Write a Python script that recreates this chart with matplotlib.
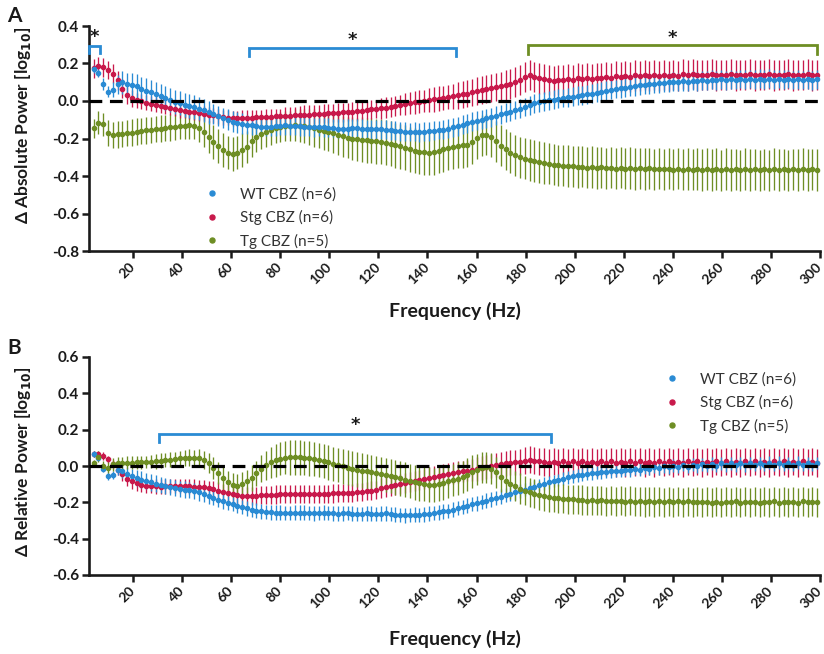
import numpy as np
import matplotlib
matplotlib.use('Agg')
import matplotlib.pyplot as plt
from matplotlib.lines import Line2D

plt.rcParams['font.family'] = ['Lato', 'DejaVu Sans']

# frequency bins (Hz): 1000/512 Hz resolution, bins 2..153
freq = np.arange(2, 154) * (1000.0 / 512.0)

series_names = ['WT CBZ (n=6)', 'Stg CBZ (n=6)', 'Tg CBZ (n=5)']
xtick_vals = [20, 40, 60, 80, 100, 120, 140, 160, 180, 200, 220, 240, 260, 280, 300]
yticksA = [-0.8, -0.6, -0.4, -0.2, 0.0, 0.2, 0.4]
yticklabelsA = ['-0.8', '-0.6', '-0.4', '-0.2', '0.0', '0.2', '0.4']
yticksB = [-0.6, -0.4, -0.2, 0.0, 0.2, 0.4, 0.6]
yticklabelsB = ['-0.6', '-0.4', '-0.2', '0.0', '0.2', '0.4', '0.6']

# ---- Panel A: delta absolute power ----
wt_abs = [
    0.170, 0.150, 0.090, 0.050, 0.060, 0.090, 0.100, 0.090, 0.085, 0.080,
    0.065, 0.055, 0.047, 0.035, 0.027, 0.015, 0.006, -0.004, -0.012, -0.020,
    -0.025, -0.032, -0.040, -0.050, -0.060, -0.070, -0.080, -0.090, -0.100, -0.110,
    -0.115, -0.120, -0.126, -0.130, -0.133, -0.136, -0.137, -0.136, -0.135, -0.132,
    -0.130, -0.131, -0.133, -0.135, -0.136, -0.138, -0.140, -0.139, -0.141, -0.143,
    -0.144, -0.147, -0.148, -0.147, -0.145, -0.146, -0.147, -0.149, -0.150, -0.151,
    -0.150, -0.153, -0.156, -0.158, -0.161, -0.163, -0.165, -0.164, -0.166, -0.163,
    -0.161, -0.158, -0.155, -0.152, -0.147, -0.141, -0.134, -0.126, -0.118, -0.111,
    -0.105, -0.099, -0.093, -0.086, -0.078, -0.071, -0.063, -0.056, -0.048, -0.041,
    -0.032, -0.022, -0.013, -0.006, -0.001, 0.003, 0.007, 0.012, 0.016, 0.020,
    0.024, 0.028, 0.031, 0.035, 0.040, 0.045, 0.050, 0.055, 0.060, 0.064,
    0.068, 0.072, 0.075, 0.079, 0.083, 0.086, 0.089, 0.092, 0.095, 0.097,
    0.099, 0.103, 0.101, 0.106, 0.104, 0.109, 0.106, 0.111, 0.108, 0.113,
    0.110, 0.115, 0.111, 0.116, 0.112, 0.117, 0.113, 0.117, 0.114, 0.118,
    0.114, 0.118, 0.113, 0.117, 0.113, 0.117, 0.112, 0.116, 0.112, 0.116,
    0.111, 0.115]
stg_abs = [
    0.175, 0.185, 0.180, 0.165, 0.145, 0.110, 0.065, 0.030, 0.015, 0.005,
    0.000, -0.008, -0.015, -0.020, -0.025, -0.030, -0.037, -0.042, -0.048, -0.053,
    -0.057, -0.060, -0.064, -0.068, -0.072, -0.077, -0.082, -0.086, -0.090, -0.092,
    -0.092, -0.090, -0.089, -0.088, -0.087, -0.086, -0.085, -0.084, -0.082, -0.080,
    -0.079, -0.078, -0.076, -0.075, -0.073, -0.072, -0.070, -0.069, -0.067, -0.066,
    -0.064, -0.062, -0.060, -0.058, -0.056, -0.054, -0.051, -0.048, -0.045, -0.042,
    -0.039, -0.035, -0.031, -0.026, -0.021, -0.016, -0.011, -0.007, -0.003, 0.001,
    0.005, 0.009, 0.013, 0.017, 0.021, 0.025, 0.030, 0.035, 0.040, 0.046,
    0.052, 0.058, 0.063, 0.068, 0.073, 0.078, 0.085, 0.092, 0.100, 0.112,
    0.130, 0.140, 0.130, 0.120, 0.115, 0.110, 0.108, 0.112, 0.110, 0.116,
    0.114, 0.120, 0.116, 0.123, 0.119, 0.125, 0.121, 0.128, 0.124, 0.131,
    0.127, 0.133, 0.129, 0.136, 0.131, 0.138, 0.133, 0.139, 0.134, 0.140,
    0.135, 0.141, 0.135, 0.142, 0.136, 0.142, 0.136, 0.141, 0.137, 0.142,
    0.136, 0.141, 0.137, 0.142, 0.136, 0.141, 0.137, 0.143, 0.136, 0.141,
    0.137, 0.142, 0.136, 0.141, 0.137, 0.142, 0.136, 0.141, 0.137, 0.142,
    0.136, 0.140]
tg_abs = [
    -0.145, -0.115, -0.125, -0.170, -0.180, -0.178, -0.175, -0.172, -0.168, -0.163,
    -0.160, -0.157, -0.153, -0.150, -0.147, -0.144, -0.141, -0.138, -0.135, -0.132,
    -0.130, -0.132, -0.146, -0.165, -0.190, -0.217, -0.240, -0.260, -0.275, -0.283,
    -0.275, -0.262, -0.243, -0.215, -0.192, -0.176, -0.164, -0.153, -0.145, -0.138,
    -0.134, -0.131, -0.130, -0.131, -0.134, -0.138, -0.144, -0.152, -0.160, -0.167,
    -0.172, -0.180, -0.188, -0.195, -0.200, -0.203, -0.206, -0.208, -0.211, -0.214,
    -0.217, -0.222, -0.228, -0.235, -0.242, -0.250, -0.258, -0.265, -0.270, -0.274,
    -0.275, -0.273, -0.266, -0.258, -0.250, -0.243, -0.238, -0.235, -0.232, -0.218,
    -0.198, -0.183, -0.180, -0.190, -0.215, -0.238, -0.258, -0.275, -0.290, -0.300,
    -0.308, -0.315, -0.320, -0.325, -0.330, -0.335, -0.340, -0.343, -0.345, -0.347,
    -0.349, -0.352, -0.350, -0.355, -0.352, -0.357, -0.353, -0.358, -0.355, -0.360,
    -0.356, -0.361, -0.357, -0.362, -0.358, -0.363, -0.359, -0.364, -0.360, -0.365,
    -0.361, -0.366, -0.361, -0.367, -0.362, -0.367, -0.362, -0.368, -0.363, -0.368,
    -0.363, -0.369, -0.363, -0.368, -0.364, -0.369, -0.363, -0.368, -0.364, -0.369,
    -0.364, -0.369, -0.363, -0.368, -0.364, -0.369, -0.364, -0.368, -0.363, -0.368,
    -0.364, -0.368]

wt_abs_err = [
    0.02, 0.02, 0.03, 0.03, 0.04, 0.05, 0.06, 0.06, 0.065, 0.065,
    0.065, 0.065, 0.065, 0.065, 0.065, 0.065, 0.065, 0.065, 0.065, 0.065,
    0.065, 0.065, 0.06, 0.06, 0.06, 0.055, 0.055, 0.055, 0.055, 0.055,
    0.055, 0.055, 0.05, 0.05, 0.05, 0.05, 0.05, 0.05, 0.05, 0.05,
    0.05, 0.05, 0.05, 0.05, 0.05, 0.05, 0.05, 0.05, 0.05, 0.05,
    0.05, 0.05, 0.05, 0.05, 0.05, 0.05, 0.05, 0.05, 0.05, 0.05,
    0.05, 0.05, 0.05, 0.05, 0.05, 0.05, 0.05, 0.05, 0.05, 0.05,
    0.05, 0.05, 0.05, 0.05, 0.05, 0.05, 0.05, 0.05, 0.05, 0.05,
    0.05, 0.05, 0.05, 0.05, 0.05, 0.05, 0.05, 0.05, 0.05, 0.05,
    0.05, 0.05, 0.05, 0.05, 0.05, 0.05, 0.05, 0.05, 0.05, 0.05,
    0.05, 0.05, 0.05, 0.05, 0.05, 0.05, 0.05, 0.05, 0.05, 0.05,
    0.05, 0.05, 0.05, 0.05, 0.05, 0.05, 0.05, 0.05, 0.05, 0.05,
    0.05, 0.05, 0.05, 0.05, 0.05, 0.05, 0.05, 0.05, 0.05, 0.05,
    0.05, 0.05, 0.05, 0.05, 0.05, 0.05, 0.05, 0.05, 0.05, 0.05,
    0.05, 0.05, 0.05, 0.05, 0.05, 0.05, 0.05, 0.05, 0.05, 0.05,
    0.05, 0.05]
stg_abs_err = [
    0.05, 0.05, 0.05, 0.05, 0.05, 0.05, 0.05, 0.045, 0.045, 0.04,
    0.04, 0.04, 0.04, 0.04, 0.04, 0.04, 0.04, 0.04, 0.04, 0.04,
    0.04, 0.04, 0.04, 0.04, 0.04, 0.04, 0.04, 0.04, 0.04, 0.04,
    0.04, 0.04, 0.04, 0.04, 0.04, 0.04, 0.04, 0.04, 0.04, 0.04,
    0.045, 0.045, 0.045, 0.05, 0.05, 0.05, 0.05, 0.05, 0.05, 0.05,
    0.05, 0.05, 0.05, 0.05, 0.05, 0.05, 0.05, 0.05, 0.05, 0.05,
    0.055, 0.055, 0.055, 0.055, 0.055, 0.06, 0.06, 0.06, 0.06, 0.06,
    0.065, 0.065, 0.065, 0.065, 0.065, 0.065, 0.07, 0.07, 0.07, 0.07,
    0.075, 0.075, 0.075, 0.075, 0.075, 0.075, 0.08, 0.08, 0.08, 0.08,
    0.08, 0.08, 0.08, 0.08, 0.08, 0.08, 0.08, 0.08, 0.08, 0.08,
    0.08, 0.08, 0.08, 0.08, 0.08, 0.08, 0.08, 0.08, 0.08, 0.08,
    0.08, 0.08, 0.08, 0.08, 0.08, 0.08, 0.08, 0.08, 0.08, 0.08,
    0.08, 0.08, 0.08, 0.08, 0.08, 0.08, 0.08, 0.08, 0.08, 0.08,
    0.08, 0.08, 0.08, 0.08, 0.08, 0.08, 0.08, 0.08, 0.08, 0.08,
    0.08, 0.08, 0.08, 0.08, 0.08, 0.08, 0.08, 0.08, 0.08, 0.08,
    0.08, 0.08]
tg_abs_err = [
    0.05, 0.06, 0.06, 0.07, 0.07, 0.07, 0.07, 0.07, 0.07, 0.07,
    0.07, 0.07, 0.07, 0.07, 0.07, 0.07, 0.07, 0.07, 0.07, 0.07,
    0.07, 0.07, 0.075, 0.08, 0.085, 0.09, 0.09, 0.09, 0.09, 0.09,
    0.09, 0.09, 0.085, 0.085, 0.08, 0.08, 0.08, 0.08, 0.08, 0.08,
    0.08, 0.08, 0.085, 0.09, 0.09, 0.095, 0.10, 0.10, 0.10, 0.10,
    0.105, 0.11, 0.11, 0.11, 0.115, 0.115, 0.12, 0.12, 0.12, 0.12,
    0.12, 0.12, 0.12, 0.12, 0.12, 0.12, 0.12, 0.12, 0.12, 0.12,
    0.12, 0.12, 0.12, 0.12, 0.12, 0.12, 0.12, 0.12, 0.12, 0.12,
    0.11, 0.11, 0.11, 0.11, 0.11, 0.11, 0.11, 0.11, 0.11, 0.11,
    0.11, 0.11, 0.11, 0.11, 0.11, 0.11, 0.11, 0.11, 0.11, 0.11,
    0.11, 0.11, 0.11, 0.11, 0.11, 0.11, 0.11, 0.11, 0.11, 0.11,
    0.11, 0.11, 0.11, 0.11, 0.11, 0.11, 0.11, 0.11, 0.11, 0.11,
    0.11, 0.11, 0.11, 0.11, 0.11, 0.11, 0.11, 0.11, 0.11, 0.11,
    0.11, 0.11, 0.11, 0.11, 0.11, 0.11, 0.11, 0.11, 0.11, 0.11,
    0.11, 0.11, 0.11, 0.11, 0.11, 0.11, 0.11, 0.11, 0.11, 0.11,
    0.11, 0.11]

# ---- Panel B: delta relative power ----
wt_rel = [
    0.065, 0.045, -0.015, -0.055, -0.050, -0.020, -0.030, -0.045, -0.055, -0.065,
    -0.075, -0.083, -0.090, -0.097, -0.105, -0.110, -0.115, -0.120, -0.125, -0.130,
    -0.133, -0.138, -0.145, -0.155, -0.165, -0.175, -0.185, -0.195, -0.203, -0.210,
    -0.218, -0.226, -0.233, -0.240, -0.245, -0.250, -0.253, -0.255, -0.256, -0.257,
    -0.258, -0.258, -0.257, -0.256, -0.257, -0.259, -0.260, -0.258, -0.256, -0.258,
    -0.260, -0.262, -0.260, -0.258, -0.262, -0.265, -0.263, -0.260, -0.262, -0.264,
    -0.262, -0.260, -0.263, -0.267, -0.270, -0.272, -0.270, -0.268, -0.270, -0.266,
    -0.262, -0.258, -0.255, -0.250, -0.247, -0.240, -0.232, -0.225, -0.218, -0.210,
    -0.205, -0.197, -0.190, -0.183, -0.175, -0.168, -0.160, -0.153, -0.145, -0.138,
    -0.130, -0.122, -0.113, -0.105, -0.097, -0.090, -0.083, -0.077, -0.070, -0.063,
    -0.057, -0.052, -0.047, -0.043, -0.040, -0.037, -0.034, -0.032, -0.030, -0.028,
    -0.026, -0.020, -0.024, -0.015, -0.020, -0.010, -0.016, -0.006, -0.012, -0.002,
    -0.008, 0.002, -0.005, 0.005, -0.003, 0.008, -0.001, 0.010, 0.000, 0.012,
    0.002, 0.014, 0.003, 0.015, 0.004, 0.016, 0.004, 0.017, 0.005, 0.017,
    0.005, 0.018, 0.006, 0.018, 0.005, 0.017, 0.006, 0.018, 0.005, 0.017,
    0.006, 0.016]
stg_rel = [
    0.065, 0.068, 0.055, 0.037, 0.010, -0.020, -0.045, -0.070, -0.085, -0.095,
    -0.103, -0.108, -0.110, -0.112, -0.113, -0.112, -0.110, -0.110, -0.110, -0.111,
    -0.112, -0.114, -0.115, -0.117, -0.120, -0.127, -0.135, -0.143, -0.150, -0.156,
    -0.160, -0.163, -0.165, -0.165, -0.163, -0.161, -0.160, -0.158, -0.157, -0.156,
    -0.155, -0.155, -0.154, -0.154, -0.154, -0.155, -0.154, -0.153, -0.153, -0.152,
    -0.151, -0.150, -0.149, -0.148, -0.147, -0.145, -0.142, -0.139, -0.135, -0.130,
    -0.123, -0.117, -0.111, -0.105, -0.100, -0.095, -0.089, -0.083, -0.077, -0.071,
    -0.066, -0.061, -0.055, -0.050, -0.045, -0.040, -0.035, -0.030, -0.025, -0.020,
    -0.015, -0.010, -0.005, 0.000, 0.005, 0.010, 0.015, 0.018, 0.020, 0.022,
    0.030, 0.035, 0.030, 0.025, 0.022, 0.016, 0.024, 0.017, 0.025, 0.018,
    0.026, 0.017, 0.025, 0.016, 0.024, 0.017, 0.026, 0.018, 0.025, 0.017,
    0.024, 0.016, 0.025, 0.018, 0.026, 0.017, 0.024, 0.016, 0.025, 0.018,
    0.026, 0.017, 0.024, 0.016, 0.025, 0.018, 0.026, 0.017, 0.024, 0.016,
    0.025, 0.018, 0.026, 0.017, 0.024, 0.016, 0.025, 0.018, 0.026, 0.017,
    0.024, 0.016, 0.025, 0.018, 0.026, 0.017, 0.024, 0.016, 0.025, 0.018,
    0.024, 0.017]
tg_rel = [
    0.015, 0.050, 0.000, -0.010, 0.010, 0.015, 0.017, 0.018, 0.019, 0.020,
    0.021, 0.022, 0.024, 0.026, 0.029, 0.032, 0.035, 0.038, 0.042, 0.045,
    0.046, 0.045, 0.043, 0.035, 0.018, -0.010, -0.040, -0.068, -0.090, -0.103,
    -0.108, -0.100, -0.085, -0.065, -0.040, -0.015, 0.005, 0.020, 0.032, 0.040,
    0.045, 0.047, 0.048, 0.047, 0.045, 0.042, 0.038, 0.033, 0.027, 0.020,
    0.012, 0.005, -0.002, -0.009, -0.015, -0.020, -0.025, -0.030, -0.035, -0.040,
    -0.045, -0.050, -0.056, -0.062, -0.068, -0.075, -0.082, -0.090, -0.096, -0.100,
    -0.103, -0.104, -0.100, -0.093, -0.085, -0.077, -0.070, -0.060, -0.048, -0.032,
    -0.020, -0.010, -0.008, -0.015, -0.035, -0.060, -0.080, -0.097, -0.110, -0.125,
    -0.135, -0.145, -0.153, -0.160, -0.166, -0.171, -0.175, -0.178, -0.180, -0.182,
    -0.184, -0.186, -0.187, -0.190, -0.188, -0.192, -0.189, -0.194, -0.190, -0.195,
    -0.191, -0.196, -0.192, -0.197, -0.193, -0.198, -0.194, -0.198, -0.194, -0.199,
    -0.195, -0.199, -0.195, -0.200, -0.195, -0.200, -0.196, -0.200, -0.196, -0.201,
    -0.196, -0.201, -0.196, -0.200, -0.195, -0.201, -0.196, -0.200, -0.196, -0.201,
    -0.196, -0.200, -0.195, -0.201, -0.196, -0.200, -0.196, -0.201, -0.195, -0.200,
    -0.196, -0.200]

wt_rel_err = [
    0.015, 0.015, 0.02, 0.02, 0.02, 0.03, 0.035, 0.04, 0.04, 0.045,
    0.045, 0.045, 0.045, 0.045, 0.045, 0.045, 0.045, 0.045, 0.045, 0.045,
    0.045, 0.045, 0.045, 0.045, 0.045, 0.04, 0.04, 0.04, 0.04, 0.04,
    0.04, 0.04, 0.04, 0.04, 0.04, 0.04, 0.04, 0.04, 0.04, 0.04,
    0.04, 0.04, 0.04, 0.04, 0.04, 0.04, 0.04, 0.04, 0.04, 0.04,
    0.04, 0.04, 0.04, 0.04, 0.04, 0.04, 0.04, 0.04, 0.04, 0.04,
    0.04, 0.04, 0.04, 0.04, 0.04, 0.04, 0.04, 0.04, 0.04, 0.04,
    0.04, 0.04, 0.04, 0.04, 0.04, 0.04, 0.04, 0.04, 0.04, 0.04,
    0.04, 0.04, 0.04, 0.04, 0.04, 0.04, 0.04, 0.04, 0.04, 0.04,
    0.035, 0.035, 0.035, 0.035, 0.035, 0.035, 0.035, 0.035, 0.035, 0.035,
    0.035, 0.035, 0.035, 0.035, 0.035, 0.035, 0.035, 0.035, 0.035, 0.035,
    0.035, 0.035, 0.035, 0.035, 0.035, 0.035, 0.035, 0.035, 0.035, 0.035,
    0.035, 0.035, 0.035, 0.035, 0.035, 0.035, 0.035, 0.035, 0.035, 0.035,
    0.035, 0.035, 0.035, 0.035, 0.035, 0.035, 0.035, 0.035, 0.035, 0.035,
    0.035, 0.035, 0.035, 0.035, 0.035, 0.035, 0.035, 0.035, 0.035, 0.035,
    0.035, 0.035]
stg_rel_err = [
    0.015, 0.015, 0.02, 0.02, 0.025, 0.03, 0.035, 0.04, 0.04, 0.04,
    0.04, 0.04, 0.04, 0.04, 0.04, 0.04, 0.04, 0.04, 0.04, 0.04,
    0.04, 0.04, 0.04, 0.04, 0.04, 0.045, 0.045, 0.045, 0.045, 0.045,
    0.05, 0.05, 0.05, 0.05, 0.05, 0.05, 0.05, 0.05, 0.05, 0.05,
    0.05, 0.05, 0.05, 0.05, 0.05, 0.05, 0.05, 0.05, 0.05, 0.05,
    0.05, 0.05, 0.05, 0.05, 0.05, 0.05, 0.05, 0.05, 0.05, 0.05,
    0.055, 0.055, 0.055, 0.055, 0.055, 0.055, 0.055, 0.055, 0.055, 0.055,
    0.06, 0.06, 0.06, 0.06, 0.06, 0.06, 0.06, 0.06, 0.06, 0.06,
    0.065, 0.065, 0.065, 0.065, 0.065, 0.065, 0.07, 0.07, 0.07, 0.07,
    0.075, 0.075, 0.075, 0.075, 0.075, 0.075, 0.075, 0.075, 0.075, 0.075,
    0.075, 0.075, 0.075, 0.075, 0.075, 0.075, 0.075, 0.075, 0.075, 0.075,
    0.075, 0.075, 0.075, 0.075, 0.075, 0.075, 0.075, 0.075, 0.075, 0.075,
    0.075, 0.075, 0.075, 0.075, 0.075, 0.075, 0.075, 0.075, 0.075, 0.075,
    0.075, 0.075, 0.075, 0.075, 0.075, 0.075, 0.075, 0.075, 0.075, 0.075,
    0.075, 0.075, 0.075, 0.075, 0.075, 0.075, 0.075, 0.075, 0.075, 0.075,
    0.075, 0.075]
tg_rel_err = [
    0.02, 0.03, 0.03, 0.03, 0.035, 0.035, 0.035, 0.035, 0.035, 0.035,
    0.035, 0.035, 0.035, 0.04, 0.04, 0.04, 0.04, 0.04, 0.04, 0.045,
    0.045, 0.045, 0.05, 0.05, 0.055, 0.06, 0.06, 0.065, 0.065, 0.065,
    0.065, 0.065, 0.065, 0.07, 0.07, 0.075, 0.08, 0.085, 0.09, 0.09,
    0.09, 0.095, 0.095, 0.095, 0.095, 0.095, 0.095, 0.095, 0.095, 0.095,
    0.095, 0.095, 0.095, 0.095, 0.095, 0.095, 0.095, 0.095, 0.095, 0.095,
    0.095, 0.095, 0.095, 0.095, 0.095, 0.095, 0.095, 0.095, 0.095, 0.095,
    0.095, 0.095, 0.095, 0.095, 0.09, 0.09, 0.09, 0.09, 0.09, 0.09,
    0.085, 0.085, 0.085, 0.085, 0.085, 0.085, 0.085, 0.085, 0.085, 0.085,
    0.08, 0.08, 0.08, 0.08, 0.08, 0.08, 0.08, 0.08, 0.08, 0.08,
    0.08, 0.08, 0.08, 0.08, 0.08, 0.08, 0.08, 0.08, 0.08, 0.08,
    0.08, 0.08, 0.08, 0.08, 0.08, 0.08, 0.08, 0.08, 0.08, 0.08,
    0.08, 0.08, 0.08, 0.08, 0.08, 0.08, 0.08, 0.08, 0.08, 0.08,
    0.08, 0.08, 0.08, 0.08, 0.08, 0.08, 0.08, 0.08, 0.08, 0.08,
    0.08, 0.08, 0.08, 0.08, 0.08, 0.08, 0.08, 0.08, 0.08, 0.08,
    0.08, 0.08]

BLUE = '#2a8bd4'
RED = '#c8194b'
GREEN = '#6e8e24'
INK = '#1a1a1a'

W, H = 824, 654
fig = plt.figure(figsize=(W / 100, H / 100), dpi=100)
axA = fig.add_axes([89 / W, 1 - 251 / H, 731 / W, 225 / H])
axB = fig.add_axes([89 / W, 1 - 575 / H, 731 / W, 218 / H])


def style(ax, ylim, yticks, yticklabels, ylabel, ylabel_y, xlabel_y):
    ax.set_xlim(2.04, 300)
    ax.set_ylim(*ylim)
    for s in ['top', 'right']:
        ax.spines[s].set_visible(False)
    for s in ['left', 'bottom']:
        ax.spines[s].set_linewidth(1.9)
        ax.spines[s].set_color(INK)
    ax.set_xticks(xtick_vals)
    ax.set_xticklabels([str(v) for v in xtick_vals], rotation=45, ha='right',
                       va='center', rotation_mode='anchor', fontweight='bold',
                       fontsize=10, color=INK)
    ax.set_yticks(yticks)
    ax.set_yticklabels(yticklabels, fontweight='bold', fontsize=11, color=INK)
    ax.tick_params(axis='both', direction='out', length=5, width=1.8, color=INK)
    ax.tick_params(axis='x', pad=5)
    ax.tick_params(axis='y', pad=2)
    ax.set_ylabel(ylabel, fontweight='bold', fontsize=12.5, color=INK)
    ax.yaxis.set_label_coords(-0.076, ylabel_y)
    ax.set_xlabel('Frequency (Hz)', fontweight='bold', fontsize=14, color=INK)
    ax.xaxis.set_label_coords(0.5, xlabel_y)
    ax.axhline(0, color='black', lw=2.3, dashes=(4.0, 2.4), zorder=4)


def draw(ax, means, errs, colors):
    for m, e, c in zip(means, errs, colors):
        ax.errorbar(freq, m, yerr=e, fmt='o', ms=3.0, color=c, mec=c,
                    ecolor=c, elinewidth=0.95, capsize=0, zorder=3)


def bracket(ax, x0, x1, ytop, ylow, color, star_y):
    ax.plot([x0, x0, x1, x1], [ylow, ytop, ytop, ylow], color=color, lw=2.0,
            clip_on=False, solid_joinstyle='miter', zorder=5)
    ax.text((x0 + x1) / 2, star_y, '*', ha='center', va='center',
            fontsize=13, fontweight='bold', color=INK, family='DejaVu Sans')


style(axA, (-0.8, 0.4), yticksA, yticklabelsA,
      '\u0394 Absolute Power [log$_{\\mathbf{10}}$]', 0.56, -0.225)
style(axB, (-0.6, 0.6), yticksB, yticklabelsB,
      '\u0394 Relative Power [log$_{\\mathbf{10}}$]', 0.52, -0.25)

draw(axA, [tg_abs, stg_abs, wt_abs], [tg_abs_err, stg_abs_err, wt_abs_err],
     [GREEN, RED, BLUE])
draw(axB, [stg_rel, wt_rel, tg_rel], [stg_rel_err, wt_rel_err, tg_rel_err],
     [RED, BLUE, GREEN])

bracket(axA, 2.2, 6.5, 0.293, 0.254, BLUE, 0.34)
bracket(axA, 67.3, 151.6, 0.284, 0.240, BLUE, 0.325)
bracket(axA, 180.9, 298.7, 0.300, 0.250, GREEN, 0.335)
bracket(axB, 30.7, 190.3, 0.176, 0.130, BLUE, 0.225)

handles = [Line2D([], [], marker='o', ls='none', color=c, ms=3.6)
           for c in (BLUE, RED, GREEN)]
for ax, anchor in ((axA, (0.158, 0.283)), (axB, (0.787, 0.93))):
    leg = ax.legend(handles, series_names, loc='upper left',
                    bbox_to_anchor=anchor, frameon=False, fontsize=11,
                    handlelength=1.0, handletextpad=1.35, labelspacing=0.55,
                    borderpad=0, borderaxespad=0)
    for t in leg.get_texts():
        t.set_color('#333333')

fig.text(14 / W, 1 - 16 / H, 'A', fontsize=15, fontweight='bold',
         ha='center', va='center', color=INK)
fig.text(14 / W, 1 - 348 / H, 'B', fontsize=15, fontweight='bold',
         ha='center', va='center', color=INK)

fig.savefig('out.png', dpi=100)
